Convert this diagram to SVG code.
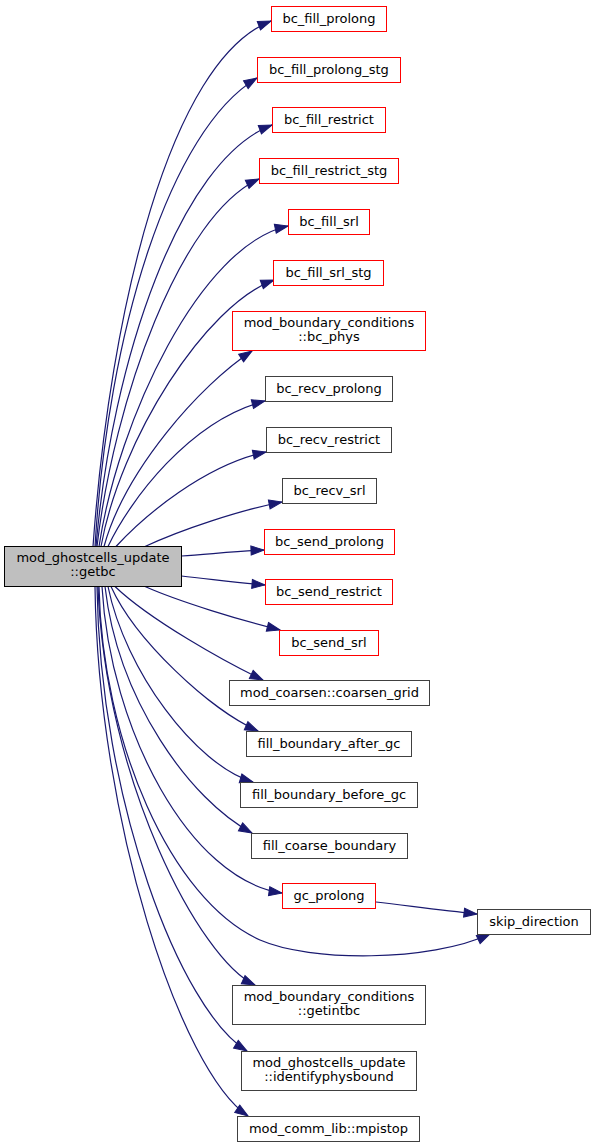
<svg xmlns="http://www.w3.org/2000/svg" width="596" height="1148" viewBox="0 0 596 1148">
<style>
  .n rect { fill: #ffffff; stroke: #404040; stroke-width: 1; }
  .n.red rect { stroke: #ff0000; }
  .n.cur rect { fill: #bfbfbf; stroke: #000000; }
  .n text { font-family: "DejaVu Sans", sans-serif; font-size: 13px; fill: #000000; text-anchor: middle; }
  .e path { fill: none; stroke: #191970; stroke-width: 1.2; marker-end: url(#arr); }
</style>
<defs>
  <marker id="arr" markerUnits="userSpaceOnUse" markerWidth="14" markerHeight="10" refX="13" refY="4.5" orient="auto" overflow="visible">
    <path d="M0,0 L13,4.5 L0,9 Z" fill="#191970" stroke="#191970" stroke-width="1"/>
  </marker>
</defs>
<rect x="0" y="0" width="596" height="1148" fill="#ffffff"/>
<g id="edges" class="e">
  <path d="M93,546.5 C110,310 170,60 271,21"/>
  <path d="M95,546.5 C108,330 170,130 257,78"/>
  <path d="M96,546.5 C112,360 180,160 272,125"/>
  <path d="M97,546.5 C114,400 180,215 259,179"/>
  <path d="M99,546.5 C118,420 200,245 288,226"/>
  <path d="M101,546.5 C120,440 205,305 274,280"/>
  <path d="M104,546.5 C125,470 200,385 252,351"/>
  <path d="M108,546.5 C130,500 190,420 265,401"/>
  <path d="M116,546.5 C145,515 205,465 266,452"/>
  <path d="M145,546.5 C180,530 240,510 282,502"/>
  <path d="M181.5,556 C210,554 240,551 264,550"/>
  <path d="M181.5,576 C210,579 240,583 265,585"/>
  <path d="M145,586.5 C180,602 240,620 280,630"/>
  <path d="M115,586.5 C150,620 225,662 263,680"/>
  <path d="M111,586.5 C135,640 210,710 258,731"/>
  <path d="M108,586.5 C125,670 195,765 253,782"/>
  <path d="M105,586.5 C118,700 190,800 252,833"/>
  <path d="M102,586.5 C110,730 190,880 282,893"/>
  <path d="M99,586.5 C102,740 170,900 260,940 C310,962 430,962 490,934"/>
  <path d="M98,586.5 C105,780 200,960 255,985"/>
  <path d="M97,586.5 C100,800 180,1010 247,1051"/>
  <path d="M95,586.5 C98,820 180,1070 248,1116"/>
  <path d="M376,902 C410,906 440,910 477,914"/>
</g>
<g id="node_getbc" class="n cur">
  <rect x="4.5" y="546.5" width="177" height="40"/>
  <text x="93" y="562">mod_ghostcells_update</text>
  <text x="93" y="576">::getbc</text>
</g>
<g id="node_bc_fill_prolong" class="n red">
  <rect x="271.5" y="6.5" width="115" height="25"/>
  <text x="329" y="23">bc_fill_prolong</text>
</g>
<g id="node_bc_fill_prolong_stg" class="n red">
  <rect x="257.5" y="57.5" width="143" height="25"/>
  <text x="329" y="74">bc_fill_prolong_stg</text>
</g>
<g id="node_bc_fill_restrict" class="n red">
  <rect x="272.5" y="107.5" width="113" height="25"/>
  <text x="329" y="124">bc_fill_restrict</text>
</g>
<g id="node_bc_fill_restrict_stg" class="n red">
  <rect x="259.5" y="158.5" width="139" height="25"/>
  <text x="329" y="175">bc_fill_restrict_stg</text>
</g>
<g id="node_bc_fill_srl" class="n red">
  <rect x="288.5" y="209.5" width="81" height="25"/>
  <text x="329" y="226">bc_fill_srl</text>
</g>
<g id="node_bc_fill_srl_stg" class="n red">
  <rect x="273.5" y="260.5" width="110" height="25"/>
  <text x="328.5" y="277">bc_fill_srl_stg</text>
</g>
<g id="node_bc_phys" class="n red">
  <rect x="232.5" y="311.5" width="193" height="39"/>
  <text x="329" y="327">mod_boundary_conditions</text>
  <text x="329" y="341">::bc_phys</text>
</g>
<g id="node_bc_recv_prolong" class="n">
  <rect x="265.5" y="376.5" width="127" height="25"/>
  <text x="329" y="393">bc_recv_prolong</text>
</g>
<g id="node_bc_recv_restrict" class="n">
  <rect x="266.5" y="427.5" width="125" height="25"/>
  <text x="329" y="444">bc_recv_restrict</text>
</g>
<g id="node_bc_recv_srl" class="n">
  <rect x="282.5" y="478.5" width="94" height="25"/>
  <text x="329.5" y="495">bc_recv_srl</text>
</g>
<g id="node_bc_send_prolong" class="n red">
  <rect x="264.5" y="529.5" width="130" height="25"/>
  <text x="329.5" y="546">bc_send_prolong</text>
</g>
<g id="node_bc_send_restrict" class="n red">
  <rect x="265.5" y="579.5" width="127" height="25"/>
  <text x="329" y="596">bc_send_restrict</text>
</g>
<g id="node_bc_send_srl" class="n red">
  <rect x="279.5" y="630.5" width="99" height="25"/>
  <text x="329" y="647">bc_send_srl</text>
</g>
<g id="node_coarsen_grid" class="n">
  <rect x="229.5" y="680.5" width="200" height="25"/>
  <text x="329.5" y="697">mod_coarsen::coarsen_grid</text>
</g>
<g id="node_fill_boundary_after_gc" class="n">
  <rect x="246.5" y="731.5" width="165" height="25"/>
  <text x="329" y="748">fill_boundary_after_gc</text>
</g>
<g id="node_fill_boundary_before_gc" class="n">
  <rect x="240.5" y="782.5" width="177" height="25"/>
  <text x="329" y="799">fill_boundary_before_gc</text>
</g>
<g id="node_fill_coarse_boundary" class="n">
  <rect x="251.5" y="833.5" width="156" height="25"/>
  <text x="329.5" y="850">fill_coarse_boundary</text>
</g>
<g id="node_gc_prolong" class="n red">
  <rect x="282.5" y="883.5" width="93" height="25"/>
  <text x="329" y="900">gc_prolong</text>
</g>
<g id="node_skip_direction" class="n">
  <rect x="477.5" y="909.5" width="113" height="25"/>
  <text x="534" y="926">skip_direction</text>
</g>
<g id="node_getintbc" class="n">
  <rect x="232.5" y="985.5" width="193" height="39"/>
  <text x="329" y="1001">mod_boundary_conditions</text>
  <text x="329" y="1015">::getintbc</text>
</g>
<g id="node_identifyphysbound" class="n">
  <rect x="241.5" y="1051.5" width="175" height="39"/>
  <text x="329" y="1067">mod_ghostcells_update</text>
  <text x="329" y="1081">::identifyphysbound</text>
</g>
<g id="node_mpistop" class="n">
  <rect x="237.5" y="1116.5" width="182" height="25"/>
  <text x="328.5" y="1133">mod_comm_lib::mpistop</text>
</g>
</svg>
